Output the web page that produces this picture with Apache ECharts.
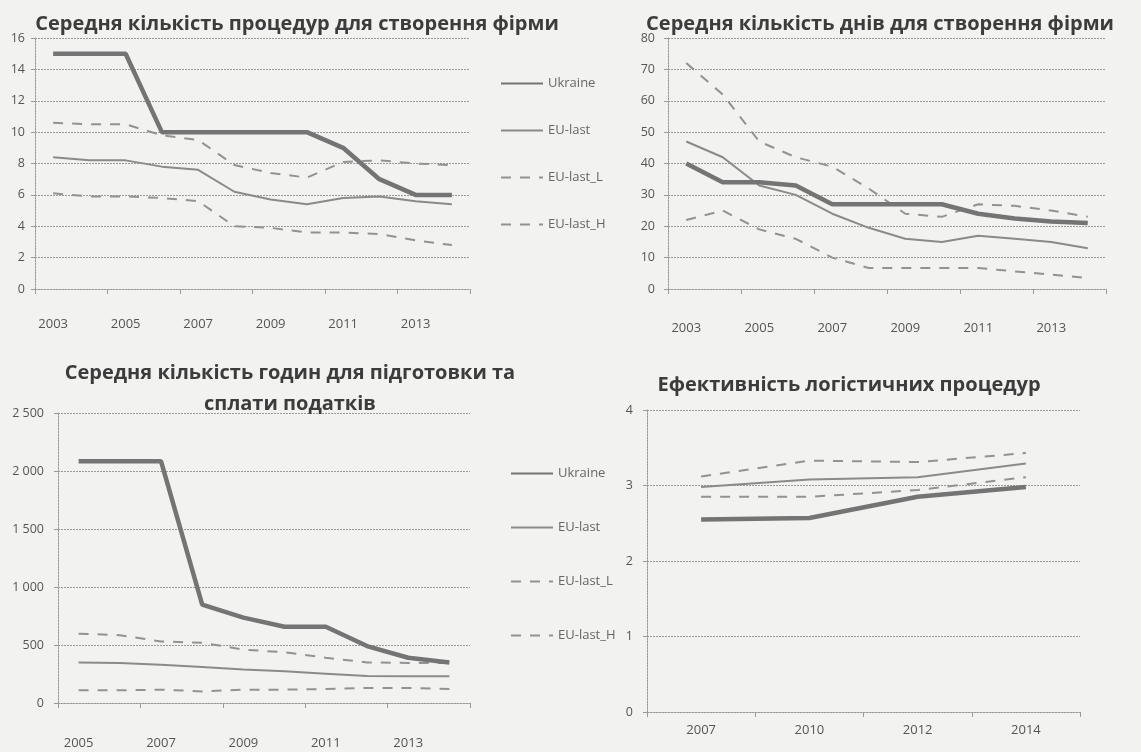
<!DOCTYPE html>
<html><head><meta charset="utf-8">
<script src="https://cdn.jsdelivr.net/npm/echarts@6/dist/echarts.min.js"></script>
<style>html,body{margin:0;padding:0;background:#f2f2f0;}#c{width:1141px;height:752px;}</style>
</head><body><div id="c"></div>
<script>
// ---- data ----
const years1 = ['2003','2004','2005','2006','2007','2008','2009','2010','2011','2012','2013','2014'];
const proc_Ukraine = [15,15,15,10,10,10,10,10,9,7,6,6];
const proc_EU = [8.4,8.2,8.2,7.8,7.6,6.2,5.7,5.4,5.8,5.9,5.6,5.4];
const proc_L = [10.6,10.5,10.5,9.8,9.5,7.9,7.4,7.1,8.1,8.2,8.0,7.9];
const proc_H = [6.1,5.9,5.9,5.8,5.6,4.0,3.9,3.6,3.6,3.5,3.1,2.8];

const days_Ukraine = [40,34,34,33,27,27,27,27,24,22.5,21.5,21];
const days_EU = [47,42,33,30,24,19.5,16,15,17,16,15,13];
const days_L = [72,62,47,42,39,32,24,23,27,26.5,25,23];
const days_H = [22,25,19,16,10,6.7,6.7,6.7,6.7,5.6,4.6,3.5];

const years3 = ['2005','2006','2007','2008','2009','2010','2011','2012','2013','2014'];
const tax_Ukraine = [2085,2085,2085,848,736,657,657,491,390,350];
const tax_EU = [350,345,330,310,288,273,253,232,230,230];
const tax_L = [598,585,530,520,460,437,390,350,345,345];
const tax_H = [110,110,115,100,115,115,120,130,130,120];

const years4 = ['2007','2010','2012','2014'];
const lpi_Ukraine = [2.55,2.57,2.85,2.98];
const lpi_EU = [2.98,3.08,3.11,3.29];
const lpi_L = [3.12,3.33,3.31,3.43];
const lpi_H = [2.85,2.85,2.94,3.11];

const seriesNames = ['Ukraine','EU-last','EU-last_L','EU-last_H'];
const titles = ['Середня кількість процедур для створення фірми','Середня кількість днів для створення фірми','Середня кількість годин для підготовки та\nсплати податків','Ефективність логістичних процедур'];

// ---- styles ----
const FONT = '"Open Sans", "Noto Sans", sans-serif';
const grey = '#8a8a8a';
const styles = [
  {color:'#747474', width:4.5, type:'solid'},
  {color:grey, width:2, type:'solid'},
  {color:'#929292', width:2, type:[10,9]},
  {color:'#929292', width:2, type:[10,9]}
];
const grids = [
  {left:35, top:38, width:435, height:251},
  {left:668, top:38, width:438, height:251},
  {left:58, top:413, width:412, height:290},
  {left:647, top:410, width:433, height:302}
];
const cats = [years1, years1, years3, years4];
const yCfg = [
  {max:16, interval:2, margin:10},
  {max:80, interval:10, margin:13},
  {max:2500, interval:500, margin:14, fmt:v=>String(v).replace(/\B(?=(\d{3})+(?!\d))/g,' ')},
  {max:4, interval:1, margin:14}
];
const xMargins = [29, 33, 34, 12];
const xInterval = [1,1,1,0];
const dataSets = [
  [proc_Ukraine, proc_EU, proc_L, proc_H],
  [days_Ukraine, days_EU, days_L, days_H],
  [tax_Ukraine, tax_EU, tax_L, tax_H],
  [lpi_Ukraine, lpi_EU, lpi_L, lpi_H]
];
const dotted = {color:'#9a9a9a', width:1, type:[2,1]};

const xAxis = [], yAxis = [], series = [];
for (let i=0;i<4;i++){
  xAxis.push({type:'category', gridIndex:i, data:cats[i], boundaryGap:true,
    axisLine:{show:true, lineStyle:dotted},
    axisTick:{show:true, length:5, lineStyle:{color:'#9a9a9a'}},
    axisLabel:{interval:xInterval[i], margin:xMargins[i], color:'#555', fontFamily:FONT, fontSize:13},
    splitLine:{show:false}});
  const yc = yCfg[i];
  yAxis.push({type:'value', gridIndex:i, min:0, max:yc.max, interval:yc.interval,
    axisLine:{show:true, lineStyle:dotted},
    axisTick:{show:true, length:4, lineStyle:{color:'#9a9a9a'}},
    axisLabel:{margin:yc.margin, color:'#555', fontFamily:FONT, fontSize:12.5, formatter: yc.fmt || (v=>String(v))},
    splitLine:{show:true, lineStyle:dotted}});
  for (let s=0;s<4;s++){
    series.push({type:'line', name:seriesNames[s], xAxisIndex:i, yAxisIndex:i,
      data:dataSets[i][s], symbol:'none', smooth:false,
      lineStyle:styles[s], itemStyle:{color:styles[s].color}, z: s===0?5:3});
  }
}

const titleStyle = {fontFamily:FONT, fontWeight:'bold', fontSize:20, color:'#3c3c3c'};
const legendBase = {orient:'vertical', data:seriesNames, itemWidth:42, itemHeight:14,
  itemStyle:{opacity:0},
  textStyle:{color:'#666', fontFamily:FONT, fontSize:13}, selectedMode:false};

const option = {
  backgroundColor:'#f2f2f0',
  animation:false,
  title:[
    {text:titles[0], left:292, textAlign:'center', top:7, textStyle:Object.assign({lineHeight:24},titleStyle)},
    {text:titles[1], left:875, textAlign:'center', top:7, textStyle:Object.assign({lineHeight:24},titleStyle)},
    {text:titles[2], left:285, textAlign:'center', top:353, textStyle:Object.assign({lineHeight:31},titleStyle)},
    {text:titles[3], left:844, textAlign:'center', top:368, textStyle:Object.assign({lineHeight:24},titleStyle)}
  ],
  legend:[
    Object.assign({left:495, top:72, itemGap:34}, legendBase),
    Object.assign({left:505, top:462, itemGap:41}, legendBase)
  ],
  grid:grids,
  xAxis, yAxis, series
};
const chart = echarts.init(document.getElementById('c'), null, {renderer:'canvas'});
chart.setOption(option);
</script></body></html>
